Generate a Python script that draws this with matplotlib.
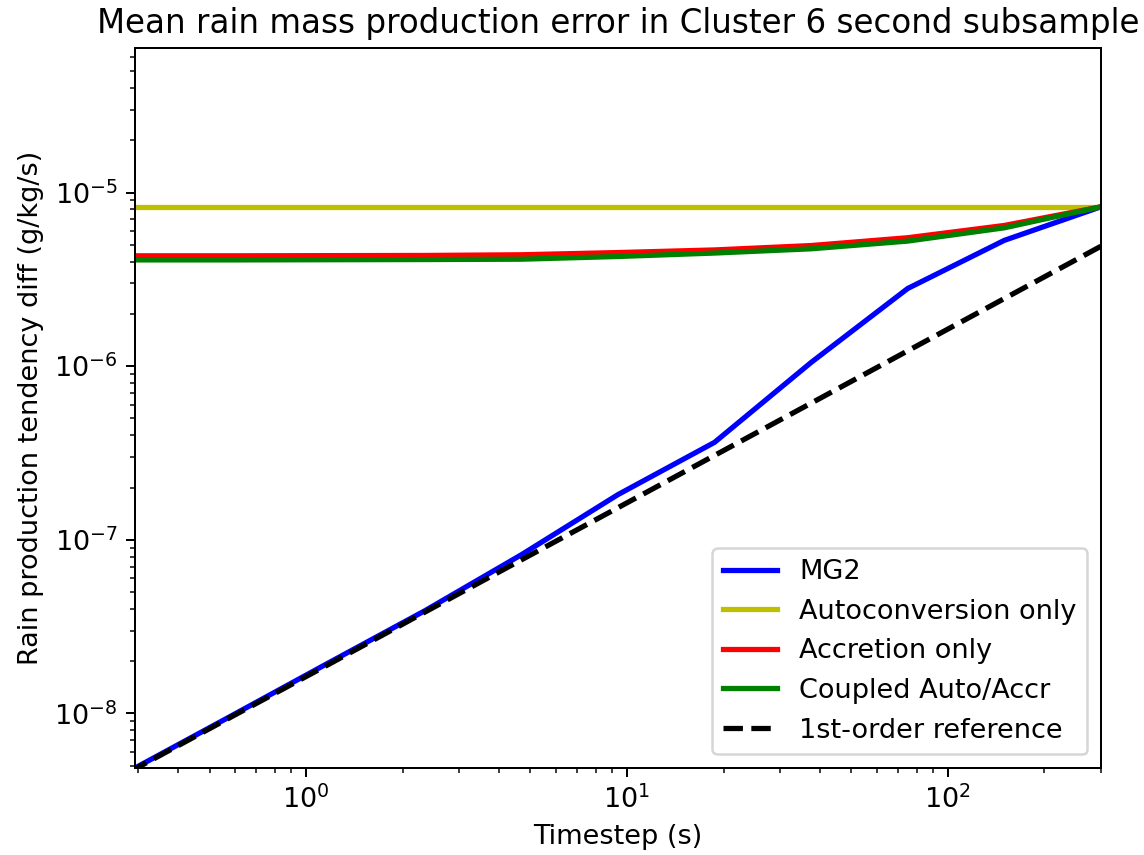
import matplotlib

matplotlib.use("Agg")
import matplotlib.pyplot as plt  # noqa: E402

# Timesteps (s), halved each run from 300 s down to 300/1024 s.
TIMESTEPS = [300.0, 150.0, 75.0, 37.5, 18.75, 9.375, 4.6875, 2.34375,
             1.171875, 0.5859375, 0.29296875]

# Mean rain production tendency difference (g/kg/s) vs. the finest run.
MG2 = [8.27e-6, 5.3e-6, 2.8e-6, 1.05e-6, 3.64e-7, 1.82e-7, 8.2e-8,
       3.9e-8, 1.95e-8, 9.7e-9, 4.85e-9]
AUTO_ONLY = [8.3e-6, 8.3e-6, 8.3e-6, 8.3e-6, 8.3e-6, 8.3e-6, 8.3e-6,
             8.3e-6, 8.3e-6, 8.3e-6, 8.3e-6]
ACCR_ONLY = [8.27e-6, 6.46e-6, 5.49e-6, 4.95e-6, 4.67e-6, 4.51e-6,
             4.38e-6, 4.34e-6, 4.33e-6, 4.32e-6, 4.32e-6]
COUPLED = [8.27e-6, 6.26e-6, 5.25e-6, 4.74e-6, 4.48e-6, 4.28e-6,
           4.13e-6, 4.11e-6, 4.10e-6, 4.09e-6, 4.09e-6]
FIRST_ORDER = [4.9e-6, 2.45e-6, 1.225e-6, 6.12e-7, 3.06e-7, 1.53e-7,
               7.66e-8, 3.83e-8, 1.91e-8, 9.57e-9, 4.79e-9]

plt.rcParams["font.size"] = 10.85

fig = plt.figure(figsize=(6.36, 4.75), dpi=180)
ax = fig.add_axes([0.118, 0.1018, 0.8436, 0.8421])

ax.loglog(TIMESTEPS, MG2, "b", lw=2.1, label="MG2")
ax.loglog(TIMESTEPS, AUTO_ONLY, "y", lw=2.1, label="Autoconversion only")
ax.loglog(TIMESTEPS, ACCR_ONLY, "r", lw=2.1, label="Accretion only")
ax.loglog(TIMESTEPS, COUPLED, "g", lw=2.1, label="Coupled Auto/Accr")
ax.loglog(TIMESTEPS, FIRST_ORDER, "k--", lw=2.1, label="1st-order reference")

ax.set_xlim(TIMESTEPS[-1], TIMESTEPS[0])
ax.set_ylim(4.85e-9, 6.8e-5)
ax.set_title("Mean rain mass production error in Cluster 6 second subsample",
             fontsize=13)
ax.set_xlabel("Timestep (s)")
ax.set_ylabel("Rain production tendency diff (g/kg/s)")
ax.legend(loc="lower right")

fig.savefig("out.png", dpi=180)
